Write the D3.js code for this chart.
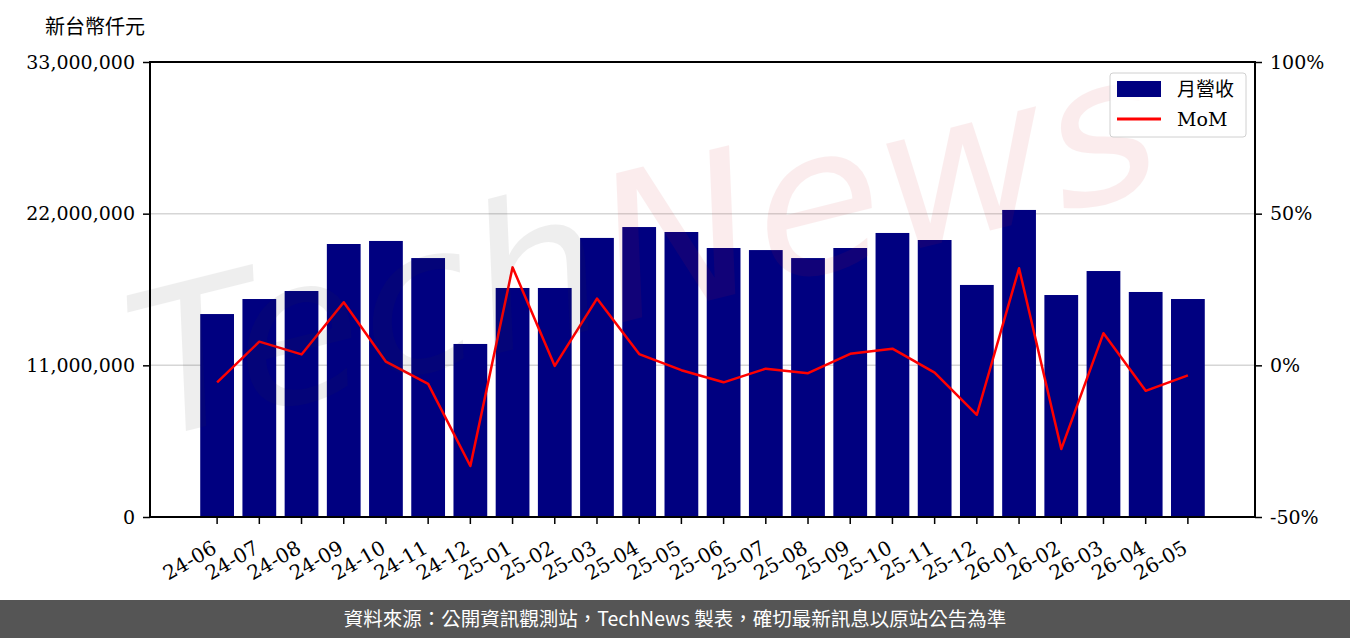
<!DOCTYPE html>
<html>
<head>
<meta charset="utf-8">
<script src="https://cdn.jsdelivr.net/npm/d3@7"></script>
<style>
  body { margin: 0; background: #fff; }
  svg { display: block; }
</style>
</head>
<body>
<div id="chart"></div>
<script>
// Data (新台幣仟元)
const months = ["24-06", "24-07", "24-08", "24-09", "24-10", "24-11", "24-12",
  "25-01", "25-02", "25-03", "25-04", "25-05", "25-06", "25-07", "25-08", "25-09",
  "25-10", "25-11", "25-12", "26-01", "26-02", "26-03", "26-04", "26-05"];

const revenue = [14720000, 15810000, 16390000, 19800000, 20020000, 18780000, 12550000,
  16610000, 16610000, 20240000, 21030000, 20670000, 19510000, 19360000, 18780000, 19510000,
  20600000, 20090000, 16830000, 22270000, 16100000, 17840000, 16320000, 15810000];

const mom = [-5.6, 7.8, 3.6, 20.8, 1.2, -6.1, -33.2,
  32.3, -0.2, 22.0, 3.7, -1.6, -5.6, -1.1, -2.6, 3.8,
  5.5, -2.4, -16.3, 32.0, -27.6, 10.6, -8.4, -3.3];

const leftTicks = [0, 11000000, 22000000, 33000000];
const rightTicks = [-50, 0, 50, 100];

const width = 1350;
const height = 638;
const margin = { top: 62, bottom: 121, left: 150, right: 95 };

const svg = d3.select("#chart")
  .append("svg")
  .attr("width", width)
  .attr("height", height);

const xScale = d3.scaleBand()
  .domain(months)
  .range([margin.left, width - margin.right])
  .paddingInner(0.2)
  .paddingOuter(1.19);

const yScale = d3.scaleLinear()
  .domain([0, 33000000])
  .range([height - margin.bottom, margin.top]);

const y2Scale = d3.scaleLinear()
  .domain([-50, 100])
  .range([height - margin.bottom, margin.top]);

const serif = "'DejaVu Serif', serif";
const cjk = "'Noto Sans CJK TC', sans-serif";

// Grid
svg.append("g")
  .selectAll("line")
  .data(leftTicks.slice(1, 3))
  .enter()
  .append("line")
  .attr("x1", margin.left)
  .attr("x2", width - margin.right)
  .attr("y1", (d) => yScale(d))
  .attr("y2", (d) => yScale(d))
  .attr("stroke", "#d6d6d6")
  .attr("stroke-width", 1.5);

// Bars
svg.append("g")
  .selectAll("rect")
  .data(months)
  .enter()
  .append("rect")
  .attr("x", (d) => xScale(d))
  .attr("width", xScale.bandwidth())
  .attr("y", (d, i) => yScale(revenue[i]))
  .attr("height", (d, i) => yScale(0) - yScale(revenue[i]))
  .attr("fill", "#000080");

// MoM line
const line = d3.line()
  .x((d, i) => xScale(months[i]) + xScale.bandwidth() / 2)
  .y((d) => y2Scale(d));

svg.append("path")
  .datum(mom)
  .attr("fill", "none")
  .attr("stroke", "#ff0000")
  .attr("stroke-width", 2.5)
  .attr("stroke-linejoin", "round")
  .attr("d", line);

// Watermark
const wm = svg.append("text")
  .attr("transform", "translate(150, 440) rotate(-14)")
  .attr("font-family", "'DejaVu Sans', sans-serif")
  .attr("font-style", "italic")
  .attr("font-size", 200)
  .attr("textLength", 1050)
  .attr("lengthAdjust", "spacingAndGlyphs")
  .attr("opacity", 0.08);
wm.append("tspan").attr("fill", "#333").text("Tech");
wm.append("tspan").attr("fill", "#d0202a").text("News");

// Axes
const axisFont = (g) => g.selectAll("text").attr("font-family", serif).attr("font-size", 19).attr("fill", "#000");

svg.append("g")
  .attr("transform", `translate(${margin.left}, 0)`)
  .call(d3.axisLeft(yScale).tickValues(leftTicks).tickFormat(d3.format(",")).tickSize(7).tickPadding(8))
  .call(axisFont)
  .call((g) => g.select(".domain").remove())
  .call((g) => g.selectAll("line").attr("stroke-width", 1.5));

svg.append("g")
  .attr("transform", `translate(${width - margin.right}, 0)`)
  .call(d3.axisRight(y2Scale).tickValues(rightTicks).tickFormat((d) => d + "%").tickSize(7).tickPadding(8))
  .call(axisFont)
  .call((g) => g.select(".domain").remove())
  .call((g) => g.selectAll("line").attr("stroke-width", 1.5));

const xAxis = svg.append("g")
  .attr("transform", `translate(0, ${height - margin.bottom})`)
  .call(d3.axisBottom(xScale).tickSize(7).tickPadding(6))
  .call(axisFont)
  .call((g) => g.select(".domain").remove())
  .call((g) => g.selectAll("line").attr("stroke-width", 1.5));

xAxis.selectAll("text")
  .attr("text-anchor", "end")
  .attr("y", 0)
  .attr("dy", 0)
  .attr("font-size", 20)
  .attr("transform", "translate(1, 35) rotate(-30)");

// Frame
svg.append("rect")
  .attr("x", margin.left)
  .attr("y", margin.top)
  .attr("width", width - margin.left - margin.right)
  .attr("height", height - margin.top - margin.bottom)
  .attr("fill", "none")
  .attr("stroke", "#000")
  .attr("stroke-width", 2);

// Unit label
svg.append("text")
  .attr("x", 45)
  .attr("y", 34)
  .attr("font-family", cjk)
  .attr("font-size", 20)
  .text("新台幣仟元");

// Legend
const legend = svg.append("g").attr("transform", "translate(1110, 73)");
legend.append("rect")
  .attr("width", 136)
  .attr("height", 64)
  .attr("rx", 3)
  .attr("fill", "#fff")
  .attr("fill-opacity", 0.8)
  .attr("stroke", "#d0d0d0");
legend.append("rect")
  .attr("x", 7).attr("y", 8).attr("width", 44).attr("height", 16)
  .attr("fill", "#000080");
legend.append("line")
  .attr("x1", 7).attr("x2", 51).attr("y1", 46).attr("y2", 46)
  .attr("stroke", "#ff0000").attr("stroke-width", 3);
legend.append("text")
  .attr("x", 67).attr("y", 23)
  .attr("font-family", cjk).attr("font-size", 19)
  .text("月營收");
legend.append("text")
  .attr("x", 67).attr("y", 53)
  .attr("font-family", serif).attr("font-size", 19)
  .text("MoM");

// Footer
svg.append("rect")
  .attr("x", 0)
  .attr("y", 600)
  .attr("width", width)
  .attr("height", 38)
  .attr("fill", "#555555");
svg.append("text")
  .attr("x", width / 2)
  .attr("y", 626)
  .attr("text-anchor", "middle")
  .attr("font-family", cjk)
  .attr("font-size", 19.5)
  .attr("fill", "#fff")
  .text("資料來源：公開資訊觀測站，TechNews 製表，確切最新訊息以原站公告為準");
</script>
</body>
</html>
